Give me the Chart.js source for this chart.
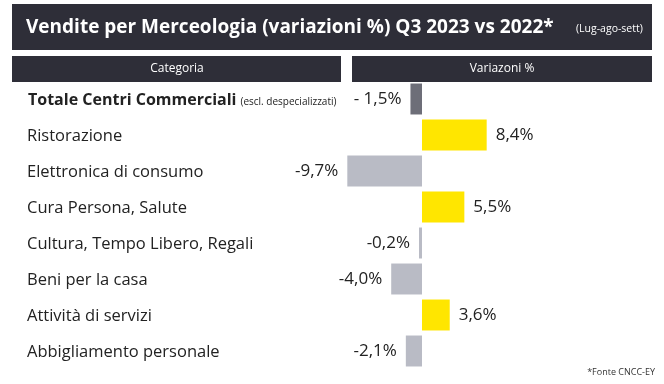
<!DOCTYPE html>
<html>
<head>
<meta charset="utf-8">
<script src="https://cdn.jsdelivr.net/npm/chart.js@4.4.0/dist/chart.umd.min.js"></script>
<style>
  html, body { margin: 0; padding: 0; background: #ffffff; }
  #wrap { position: relative; width: 664px; height: 384px; }
</style>
</head>
<body>
<div id="wrap"><canvas id="merce-chart" width="664" height="384"></canvas></div>
<script>
// Vendite per merceologia - variazioni % Q3 2023 vs 2022
const categories = ['Totale Centri Commerciali', 'Ristorazione', 'Elettronica di consumo', 'Cura Persona, Salute',
                    'Cultura, Tempo Libero, Regali', 'Beni per la casa', 'Attività di servizi', 'Abbigliamento personale'];
const variazioni = [-1.5, 8.4, -9.7, 5.5, -0.2, -4.0, 3.6, -2.1];
const valueLabels = ['- 1,5%', '8,4%', '-9,7%', '5,5%', '-0,2%', '-4,0%', '3,6%', '-2,1%'];

const titleText = 'Vendite per Merceologia (variazioni %) Q3 2023 vs 2022*';
const subTitle = '(Lug-ago-sett)';
const totaleNote = '(escl. despecializzati)';
const footNote = '*Fonte CNCC-EY';

const DARK = '#2e2e38';
const FONT = '"Open Sans", sans-serif';

var barColours = variazioni.map(function (v, i) {
  if (i === 0) return '#6d6e78';
  return v >= 0 ? '#ffe600' : '#b9bbc5';
});

// title + header bars
const headerPlugin = {
  id: 'headerPlugin',
  beforeDraw: function (chart) {
    const ctx = chart.ctx;
    ctx.save();
    ctx.fillStyle = DARK;
    ctx.fillRect(12, 4, 640, 46);
    ctx.fillRect(12, 56, 329, 26);
    ctx.fillRect(352, 56, 300, 26);

    ctx.fillStyle = '#ffffff';
    ctx.textBaseline = 'middle';
    ctx.textAlign = 'left';
    ctx.font = 'bold 19px ' + FONT;
    ctx.fillText(titleText, 26, 28);
    ctx.font = '10.5px ' + FONT;
    ctx.fillText(subTitle, 576, 29);

    ctx.textAlign = 'center';
    ctx.font = '12px ' + FONT;
    ctx.fillText('Categoria', 177, 69);
    ctx.fillText('Variazoni %', 502, 69);

    ctx.textAlign = 'right';
    ctx.fillStyle = '#333333';
    ctx.font = '9px ' + FONT;
    ctx.fillText(footNote, 655, 372);
    ctx.restore();
  }
};

// category names on the left + value labels next to the bars
const labelPlugin = {
  id: 'labelPlugin',
  afterDatasetsDraw: function (chart) {
    const ctx = chart.ctx;
    const yScale = chart.scales.y;
    const meta = chart.getDatasetMeta(0);
    ctx.save();
    ctx.textBaseline = 'middle';
    ctx.fillStyle = '#222222';
    for (let i = 0; i < categories.length; i++) {
      const y = yScale.getPixelForValue(i);
      ctx.textAlign = 'left';
      if (i === 0) {
        ctx.font = 'bold 16px ' + FONT;
        ctx.fillText(categories[i], 28, y + 1);
        const w = ctx.measureText(categories[i]).width;
        ctx.font = '10px ' + FONT;
        ctx.fillText(totaleNote, 28 + w + 4, y + 3);
      } else {
        ctx.font = '16.5px ' + FONT;
        ctx.fillText(categories[i], 27, y + 1);
      }
      const bar = meta.data[i];
      ctx.font = '17px ' + FONT;
      if (variazioni[i] >= 0) {
        ctx.textAlign = 'left';
        ctx.fillText(valueLabels[i], bar.x + 9, y);
      } else {
        ctx.textAlign = 'right';
        ctx.fillText(valueLabels[i], bar.x - 9, y);
      }
    }
    ctx.restore();
  }
};

var ctx = document.getElementById('merce-chart').getContext('2d');
var merceChart = new Chart(ctx, {
  type: 'bar',
  data: {
    labels: categories,
    datasets: [{
      data: variazioni,
      backgroundColor: barColours,
      borderWidth: 0,
      barPercentage: 0.86,
      categoryPercentage: 1,
      minBarLength: 3
    }]
  },
  options: {
    indexAxis: 'y',
    responsive: false,
    animation: false,
    layout: {
      padding: { left: 345, right: 11, top: 81, bottom: 15 }
    },
    scales: {
      x: { display: false, min: -10, max: 30 },
      y: { display: false }
    },
    plugins: {
      legend: { display: false },
      tooltip: { enabled: false }
    }
  },
  plugins: [headerPlugin, labelPlugin]
});
</script>
</body>
</html>
